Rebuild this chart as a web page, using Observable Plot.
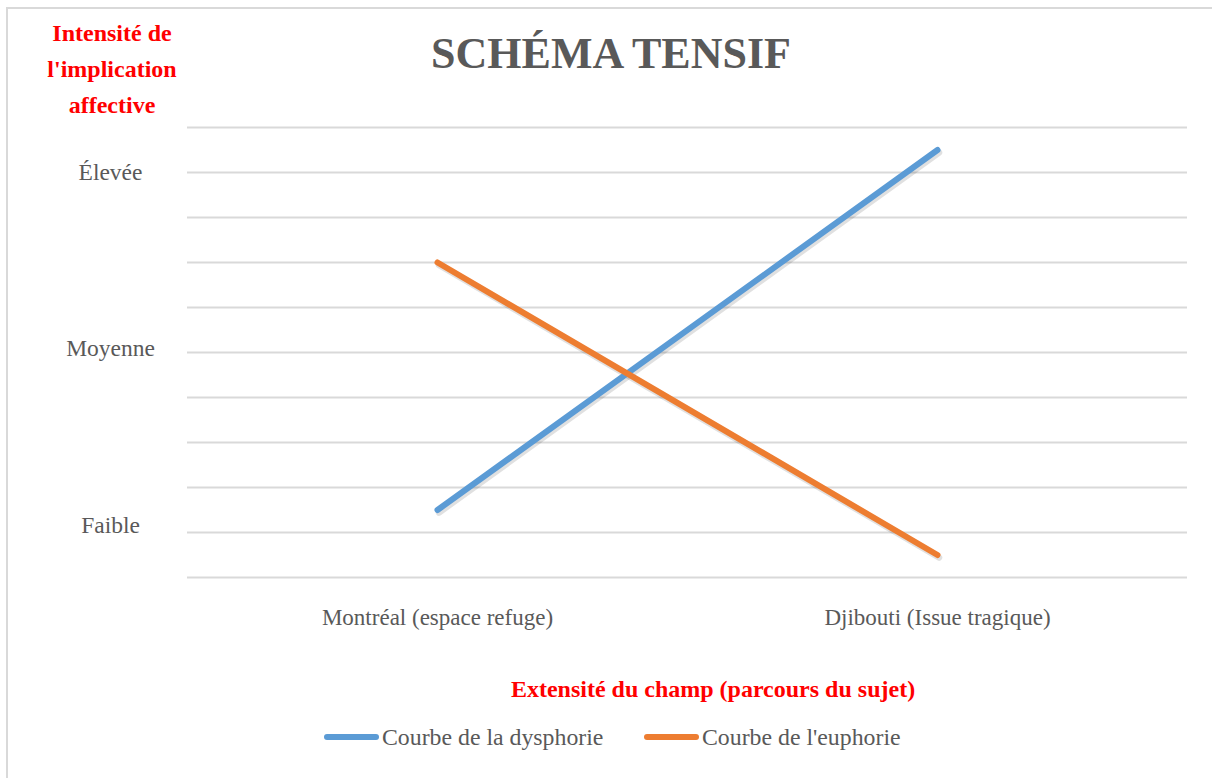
<!DOCTYPE html>
<html>
<head>
<meta charset="utf-8">
<script src="https://cdn.jsdelivr.net/npm/d3@7"></script>
<script src="https://cdn.jsdelivr.net/npm/@observablehq/plot@0.6"></script>
<style>
  html, body { margin: 0; padding: 0; background: #fff; }
  body { width: 1212px; height: 778px; overflow: hidden; position: relative; font-family: "Liberation Serif", "DejaVu Serif", serif; }
  #frame { position: absolute; left: 6px; top: 7px; width: 1220px; height: 800px; border: 2px solid #d9d9d9; box-sizing: border-box; }
  #ylabel { position: absolute; left: 20px; width: 184px; top: 15px; text-align: center; color: #ff0000; font-weight: bold; font-size: 24px; line-height: 36px; }
  #title { position: absolute; left: 0; width: 1222px; top: 27px; text-align: center; color: #595959; font-weight: bold; font-size: 44px; line-height: 54px; }
  #chart { position: absolute; left: 0; top: 0; }
  #xlabel { position: absolute; left: 412px; width: 602px; top: 673px; text-align: center; color: #ff0000; font-weight: bold; font-size: 24px; line-height: 32px; }
  #legend { position: absolute; top: 721px; left: 0; width: 1212px; height: 32px; }
  .item { position: absolute; top: 0; display: flex; align-items: center; color: #595959; font-size: 23.8px; line-height: 32px; }
  .sw { display: inline-block; width: 55px; height: 6px; border-radius: 3px; margin-right: 3px; }
</style>
</head>
<body>
<div id="frame"></div>
<div id="chart"></div>
<div id="ylabel">Intensité de<br>l'implication<br>affective</div>
<div id="title">SCHÉMA TENSIF</div>
<div id="xlabel">Extensité du champ (parcours du sujet)</div>
<div id="legend"></div>
<script>
// Data
const places = ["Montréal (espace refuge)", "Djibouti (Issue tragique)"];
const dysphorie = [1.5, 9.5];
const euphorie = [7, 0.5];
const seriesNames = ["Courbe de la dysphorie", "Courbe de l'euphorie"];
const seriesColors = ["#5b9bd5", "#ed7d31"];
const levelLabels = ["Faible", "Moyenne", "Élevée"];
const levelValues = [1.15, 5.1, 9];
const gridValues = [0, 1, 2, 3, 4, 5, 6, 7, 8, 9, 10];

const rows = [];
places.forEach((p, i) => {
  rows.push({place: p, value: dysphorie[i], series: seriesNames[0]});
  rows.push({place: p, value: euphorie[i], series: seriesNames[1]});
});

const chart = Plot.plot({
  width: 1212,
  height: 650,
  marginLeft: 187,
  marginRight: 25,
  marginTop: 127,
  marginBottom: 73,
  style: {fontFamily: "'Liberation Serif', serif", fontSize: "23px", color: "#595959", background: "transparent"},
  x: {type: "point", domain: places, padding: 0.5, label: null},
  y: {domain: [0, 10], label: null},
  color: {domain: seriesNames, range: seriesColors},
  marks: [
    Plot.ruleY(gridValues, {stroke: "#d9d9d9", strokeWidth: 2}),
    Plot.axisX({tickSize: 0, tickPadding: 0, dy: 31, fill: "#595959", fontSize: 23, label: null}),
    Plot.axisY(levelValues, {tickSize: 0, tickPadding: 0, dx: -77, textAnchor: "middle", fill: "#595959", fontSize: 23.5, label: null,
      tickFormat: (d) => levelLabels[levelValues.indexOf(d)]}),
    Plot.line(rows, {x: "place", y: "value", z: "series", stroke: "#000", strokeOpacity: 0.12, strokeWidth: 6.5, dx: 1.5, dy: 2.5, strokeLinecap: "round"}),
    Plot.line(rows, {x: "place", y: "value", z: "series", stroke: "series", strokeWidth: 6, strokeLinecap: "round"})
  ]
});
document.getElementById("chart").appendChild(chart);

// Legend
const legend = document.getElementById("legend");
const lefts = [324, 644];
seriesNames.forEach((name, i) => {
  const it = document.createElement("div");
  it.className = "item";
  it.style.left = lefts[i] + "px";
  const sw = document.createElement("span");
  sw.className = "sw";
  sw.style.background = seriesColors[i];
  it.appendChild(sw);
  it.appendChild(document.createTextNode(name));
  legend.appendChild(it);
});
</script>
</body>
</html>
